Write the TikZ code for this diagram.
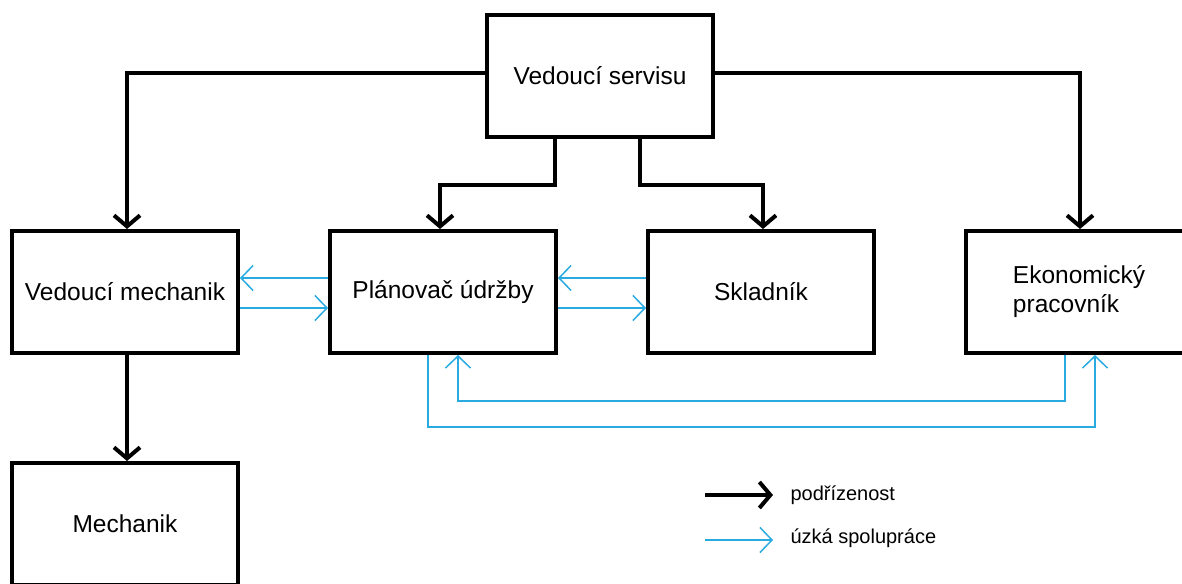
\documentclass[tikz,border=0pt]{standalone}
\usepackage{fontspec}
\setmainfont{Liberation Sans}
\usepackage{tikz}
\usetikzlibrary{positioning, arrows.meta}
\definecolor{coopblue}{RGB}{41,171,226}

\begin{document}
\begin{tikzpicture}
    [x=1pt, y=1pt, node distance=88pt,
      box/.style={draw, line width=4pt, minimum width=226pt, minimum height=122pt,
        font=\fontsize{24.5}{29}\selectfont},
      sub/.style={line width=4pt, -{Straight Barb[length=11pt, width=26pt]}},
      coop/.style={draw=coopblue, line width=1.5pt, -{Straight Barb[length=12pt, width=25pt]}},
      legend/.style={font=\fontsize{20}{24}\selectfont, anchor=west}]

    \useasboundingbox (0,0) rectangle (1182,583);

    \node[box] (servis) at (600,507) {Vedoucí servisu};

    \node[box] (mech) at (125,291) {Vedoucí mechanik};
    \node[box, right= of mech] (plan) {Plánovač údržby};
    \node[box, right= of plan] (sklad) {Skladník};
    \node[box, right= of sklad, align=left] (ekon) {Ekonomický\\pracovník};
    \node[box, below=106pt of mech] (mechanik) {Mechanik};

    % podrizenost
    \draw[sub] ([yshift=3pt]servis.west) -| ([xshift=2pt]mech.north);
    \draw[sub] ([yshift=3pt]servis.east) -| ([xshift=1pt]ekon.north);
    \draw[sub] ([xshift=-45pt]servis.south) -- ++(0,-46pt) -| ([xshift=-3pt]plan.north);
    \draw[sub] ([xshift=40pt]servis.south) -- ++(0,-46pt) -| ([xshift=2pt]sklad.north);
    \draw[sub] ([xshift=2pt]mech.south) -- ([xshift=2pt]mechanik.north);

    % spoluprace
    \draw[coop] ([yshift=14pt]plan.west) -- ([yshift=14pt]mech.east);
    \draw[coop] ([yshift=-16pt]mech.east) -- ([yshift=-16pt]plan.west);
    \draw[coop] ([yshift=14pt]sklad.west) -- ([yshift=14pt]plan.east);
    \draw[coop] ([yshift=-16pt]plan.east) -- ([yshift=-16pt]sklad.west);
    \draw[coop] ([xshift=-15pt]plan.south) -- ++(0,-72pt) -| ([xshift=16pt]ekon.south);
    \draw[coop] ([xshift=-14pt]ekon.south) -- ++(0,-46pt) -| ([xshift=15pt]plan.south);

    % legenda
    \node[legend] (lsub) at (787,88) {podřízenost};
    \node[legend] (lcoop) at (787,45) {úzká spolupráce};
    \coordinate (lsubstart) at (705,88);
    \coordinate (lcoopstart) at (705,43);
    \draw[sub, shorten >=14pt] (lsubstart) -- (lsubstart -| lsub.west);
    \draw[coop, shorten >=14pt] (lcoopstart) -- (lcoopstart -| lcoop.west);
  \end{tikzpicture}
\end{document}
